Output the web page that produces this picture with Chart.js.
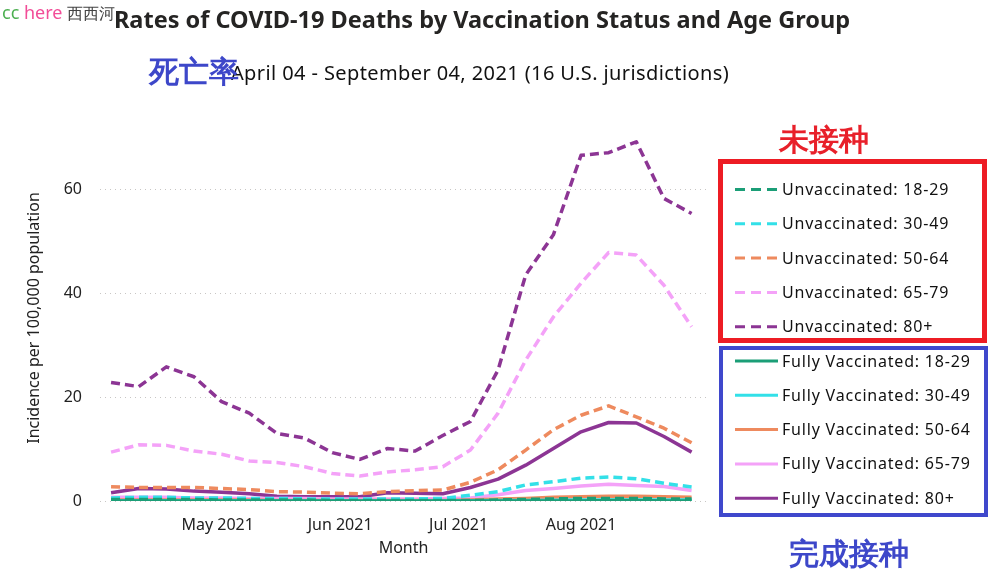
<!DOCTYPE html>
<html>
<head>
<meta charset="utf-8">
<script src="https://cdn.jsdelivr.net/npm/chart.js@4.4.0/dist/chart.umd.min.js"></script>
<style>
  body { margin: 0; background: #fff; }
  #wrap { position: relative; width: 1007px; height: 586px; overflow: hidden; font-family: 'Noto Sans', sans-serif; }
  canvas { position: absolute; left: 0; top: 0; }
  .t { position: absolute; white-space: nowrap; }
  .box { position: absolute; box-sizing: border-box; }
</style>
</head>
<body>
<div id="wrap">
  <canvas id="chart" width="1007" height="586"></canvas>
  <div class="t" style="left:0;width:964px;top:3px;text-align:center;font-size:23.5px;font-weight:bold;color:#252423;">Rates of COVID-19 Deaths by Vaccination Status and Age Group</div>
  <div class="t" style="left:2px;top:0px;font-size:18px;"><span style="color:#4caf50">cc</span> <span style="color:#f24d98">here</span> <span style="color:#444;font-size:15.5px">西西河</span></div>
  <div class="t" style="left:0;width:960px;top:59px;text-align:center;font-size:20px;letter-spacing:0.4px;color:#111;">April 04 - September 04, 2021 (16 U.S. jurisdictions)</div>
  <div class="t" style="left:149px;top:50px;font-size:29.5px;font-weight:bold;color:#3d47c9;">死亡率</div>
  <div class="t" style="left:779px;top:118px;font-size:29.5px;font-weight:bold;color:#e8202a;">未接种</div>
  <div class="t" style="left:789px;top:532px;font-size:29.5px;font-weight:bold;color:#3d47c9;">完成接种</div>
  <div class="box" style="left:718px;top:159px;width:269px;height:184px;border:5px solid #ed1c24;"></div>
  <div class="box" style="left:719px;top:346px;width:269px;height:171px;border:4px solid #3f48cc;"></div>
</div>
<script>
// weeks (start dates) and month ticks
const weeks = ['2021-04-04', '2021-04-11', '2021-04-18', '2021-04-25', '2021-05-02', '2021-05-09',
  '2021-05-16', '2021-05-23', '2021-05-30', '2021-06-06', '2021-06-13', '2021-06-20', '2021-06-27',
  '2021-07-04', '2021-07-11', '2021-07-18', '2021-07-25', '2021-08-01', '2021-08-08', '2021-08-15',
  '2021-08-22', '2021-08-29'];
const monthTicks = ['2021-05-01', '2021-06-01', '2021-07-01', '2021-08-01'];
const monthLabels = ['May 2021', 'Jun 2021', 'Jul 2021', 'Aug 2021'];
const yTicks = [0, 20, 40, 60];

const seriesNames = ['Unvaccinated: 18-29', 'Unvaccinated: 30-49', 'Unvaccinated: 50-64', 'Unvaccinated: 65-79', 'Unvaccinated: 80+',
  'Fully Vaccinated: 18-29', 'Fully Vaccinated: 30-49', 'Fully Vaccinated: 50-64', 'Fully Vaccinated: 65-79', 'Fully Vaccinated: 80+'];

const unvac1829 = [0.3, 0.3, 0.3, 0.3, 0.2, 0.2, 0.2, 0.2, 0.1, 0.1, 0.1, 0.1, 0.1, 0.1, 0.2, 0.3, 0.4, 0.5, 0.5, 0.5, 0.4, 0.4];
const unvac3049 = [0.6, 0.7, 0.7, 0.6, 0.6, 0.5, 0.5, 0.4, 0.4, 0.4, 0.4, 0.4, 0.5, 1.1, 1.8, 3.1, 3.7, 4.4, 4.6, 4.3, 3.4, 2.7];
const unvac5064 = [2.75, 2.6, 2.6, 2.6, 2.4, 2.2, 1.8, 1.7, 1.5, 1.4, 1.8, 2.0, 2.1, 3.6, 6.0, 9.8, 13.7, 16.5, 18.3, 16.2, 14.0, 11.2];
const unvac6579 = [9.4, 10.8, 10.7, 9.6, 9.0, 7.7, 7.4, 6.6, 5.3, 4.8, 5.6, 6.0, 6.6, 9.8, 16.9, 27.1, 35.4, 41.9, 47.8, 47.3, 41.5, 33.5];
const unvac80 = [22.8, 22.0, 25.8, 23.9, 19.1, 16.9, 13.0, 12.1, 9.3, 8.0, 10.1, 9.6, 12.6, 15.3, 25.2, 43.5, 51.2, 66.5, 67.0, 69.1, 58.2, 55.3];
const vac1829 = [0.0, 0.0, 0.0, 0.0, 0.0, 0.0, 0.0, 0.0, 0.0, 0.0, 0.0, 0.0, 0.0, 0.0, 0.0, 0.0, 0.0, 0.0, 0.1, 0.1, 0.0, 0.0];
const vac3049 = [0.05, 0.05, 0.05, 0.05, 0.05, 0.05, 0.0, 0.0, 0.0, 0.0, 0.0, 0.0, 0.0, 0.05, 0.1, 0.1, 0.15, 0.2, 0.2, 0.2, 0.2, 0.2];
const vac5064 = [0.2, 0.2, 0.2, 0.2, 0.2, 0.2, 0.1, 0.1, 0.1, 0.1, 0.1, 0.1, 0.1, 0.2, 0.4, 0.5, 0.7, 0.8, 0.9, 0.9, 0.8, 0.7];
const vac6579 = [0.7, 0.7, 0.7, 0.6, 0.6, 0.5, 0.5, 0.5, 0.4, 0.4, 0.4, 0.4, 0.5, 0.6, 1.2, 2.0, 2.4, 2.9, 3.2, 3.0, 2.8, 2.0];
const vac80 = [1.6, 2.4, 2.3, 1.9, 1.7, 1.4, 0.9, 0.8, 0.8, 0.8, 1.6, 1.5, 1.4, 2.6, 4.2, 6.9, 10.1, 13.3, 15.1, 15.0, 12.4, 9.4];

const colors = ['#1b9e77', '#33e0e8', '#ee8a5e', '#f4a2f8', '#8c3594'];

const day0 = Date.parse(weeks[0]);
const toDay = d => (Date.parse(d) - day0) / 86400000;

const allSeries = [unvac1829, unvac3049, unvac5064, unvac6579, unvac80, vac1829, vac3049, vac5064, vac6579, vac80];
const datasets = allSeries.map((vals, i) => ({
  label: seriesNames[i],
  data: vals.map((v, j) => ({ x: toDay(weeks[j]), y: v })),
  borderColor: colors[i % 5],
  backgroundColor: colors[i % 5],
  borderWidth: 3.5,
  borderDash: i < 5 ? [9, 5] : [],
  pointRadius: 0,
  tension: 0,
  borderJoinStyle: 'round'
}));

// legend drawn on the canvas
const legendPlugin = {
  id: 'sideLegend',
  afterDraw(chart) {
    const c = chart.ctx;
    c.save();
    chart.data.datasets.forEach((ds, i) => {
      const y = 189.5 + i * 34.3;
      c.strokeStyle = ds.borderColor;
      c.lineWidth = 3;
      c.setLineDash(i < 5 ? [10, 6] : []);
      c.beginPath();
      c.moveTo(735, y);
      c.lineTo(778, y);
      c.stroke();
      c.setLineDash([]);
      c.fillStyle = '#111';
      c.font = "16px 'Noto Sans'";
      c.letterSpacing = '0.8px';
      c.textBaseline = 'middle';
      c.fillText(ds.label, 782, y + 1);
    });
    c.restore();
  }
};

Chart.defaults.font.family = "'Noto Sans', sans-serif";
Chart.defaults.font.size = 16;
Chart.defaults.color = '#222';

new Chart(document.getElementById('chart'), {
  type: 'line',
  data: { datasets: datasets },
  options: {
    responsive: false,
    devicePixelRatio: 1,
    animation: false,
    layout: { padding: { left: 21, right: 300, top: 135, bottom: 24 } },
    plugins: { legend: { display: false }, tooltip: { enabled: false } },
    scales: {
      x: {
        type: 'linear',
        min: -2.8,
        max: 150.9,
        afterFit: s => { s.height = 61; },
        afterBuildTicks: s => { s.ticks = monthTicks.map(d => ({ value: toDay(d) })); },
        ticks: {
          padding: 7,
          maxRotation: 0,
          autoSkip: false,
          callback: (v, idx) => monthLabels[idx]
        },
        grid: { display: false },
        border: { display: false },
        title: { display: true, text: 'Month', color: '#222', font: { size: 16 } }
      },
      y: {
        min: 0,
        max: 70.4,
        afterFit: s => { s.width = 79; },
        afterBuildTicks: s => { s.ticks = yTicks.map(v => ({ value: v })); },
        ticks: { padding: 18 },
        grid: { color: '#c8c6c4', drawTicks: false, lineWidth: 1 },
        border: { display: false, dash: [1, 4] },
        title: { display: true, text: 'Incidence per 100,000 population', color: '#222', font: { size: 16 } }
      }
    }
  },
  plugins: [legendPlugin]
});
</script>
</body>
</html>
